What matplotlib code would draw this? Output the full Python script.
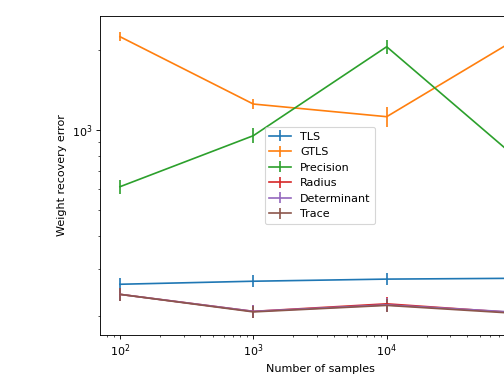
import numpy as np
import matplotlib
matplotlib.use('Agg')
import matplotlib.pyplot as plt

samples = [1e2, 1e3, 1e4, 1e5]

tls = [263, 270, 275, 277]
tls_err = [14, 14, 14, 14]

gtls = [2243, 1252, 1122, 2240]
gtls_err = [87, 54, 97, 90]

precision = [612, 952, 2056, 765]
precision_err = [37, 62, 133, 50]

radius = [241, 208, 222, 205]
radius_err = [13, 11, 13, 11]

determinant = [241, 208, 220, 206]
determinant_err = [13, 11, 13, 11]

trace = [241, 207, 219, 204]
trace_err = [13, 11, 13, 11]

series = [
    ('TLS', tls, tls_err),
    ('GTLS', gtls, gtls_err),
    ('Precision', precision, precision_err),
    ('Radius', radius, radius_err),
    ('Determinant', determinant, determinant_err),
    ('Trace', trace, trace_err),
]

fig = plt.figure(figsize=(6.3, 4.825), dpi=80)
# axes runs past the right edge, like the cropped original
ax = fig.add_axes([100 / 504, 1 - 335 / 386, 440 / 504, 319 / 386])

for name, vals, err in series:
    ax.errorbar(samples, vals, yerr=err, label=name)

ax.set_xscale('log')
ax.set_yscale('log')
ax.set_ylim(169.5, 2683)
ax.set_xlabel('Number of samples')
ax.set_ylabel('Weight recovery error')
ax.legend(loc='center')

fig.savefig('out.png', dpi=80)
